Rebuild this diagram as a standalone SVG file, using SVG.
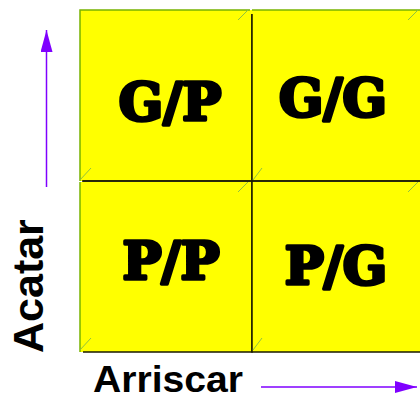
<svg xmlns="http://www.w3.org/2000/svg" width="420" height="401" viewBox="0 0 420 401">
<defs>
<style>
.box{fill:#ffff00}
.lt{fill:none;stroke:#77b300;stroke-width:1.5}
.dk{fill:none;stroke:#1a1a00;stroke-width:1.5}
.tick{stroke:#8fc040;stroke-width:1}
.cell{font-family:"DejaVu Serif",serif;font-weight:bold;font-size:52px;fill:#000;stroke:#000;stroke-width:3.5;stroke-linejoin:round;text-anchor:middle}
.axis{font-family:"Liberation Sans",Arial,sans-serif;font-weight:bold;fill:#000}
.arr{stroke:#7f00ff;stroke-width:1.5;fill:none}
</style>
<marker id="ah" markerWidth="22" markerHeight="12" refX="22" refY="6" orient="auto" markerUnits="userSpaceOnUse">
<path d="M0,0 L22,6 L0,12 Z" fill="#7f00ff"/>
</marker>
</defs>
<rect width="420" height="401" fill="#fff"/>
<g id="gp">
<rect class="box" x="80" y="10" width="172" height="171"/>
<path class="lt" d="M80,181 V10 H250"/>
<path class="dk" d="M252,14 V181 H83"/>
<line class="tick" x1="80" y1="180" x2="91" y2="168"/>
<line class="tick" x1="238" y1="20" x2="248" y2="10"/>
<text class="cell" x="170" y="120">G/P</text>
</g>
<g id="gg">
<rect class="box" x="252" y="10" width="168" height="171"/>
<path class="lt" d="M252,10 H420"/>
<path class="dk" d="M252,14 V181 H420"/>
<line class="tick" x1="253" y1="180" x2="262" y2="168"/>
<line class="tick" x1="408" y1="20" x2="418" y2="10"/>
<text class="cell" x="333" y="116">G/G</text>
</g>
<g id="pp">
<rect class="box" x="80" y="182" width="172" height="170"/>
<path class="lt" d="M80,352 V182"/>
<path class="dk" d="M82,181 H252 V352 H83"/>
<line class="tick" x1="80" y1="350" x2="91" y2="338"/>
<line class="tick" x1="238" y1="192" x2="248" y2="182"/>
<text class="cell" x="171" y="279">P/P</text>
</g>
<g id="pg">
<rect class="box" x="252" y="182" width="168" height="170"/>
<path class="dk" d="M252,181 H420 M252,181 V352 H420"/>
<line class="tick" x1="253" y1="350" x2="262" y2="338"/>
<line class="tick" x1="408" y1="192" x2="418" y2="182"/>
<text class="cell" x="336" y="284">P/G</text>
</g>
<g id="axes">
<text class="axis" font-size="43" transform="translate(43,353) rotate(-90)">Acatar</text>
<text class="axis" font-size="37" x="93" y="392" textLength="150" lengthAdjust="spacingAndGlyphs">Arriscar</text>
</g>
<g id="connectors">
<line class="arr" x1="46.5" y1="187" x2="46.5" y2="30" marker-end="url(#ah)"/>
<line class="arr" x1="261" y1="387" x2="417" y2="387" marker-end="url(#ah)"/>
</g>
</svg>
